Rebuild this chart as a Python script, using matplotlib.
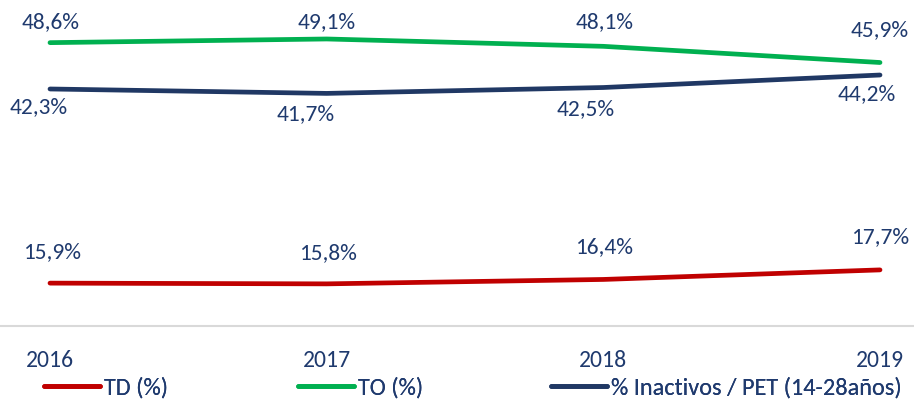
import matplotlib
matplotlib.use("Agg")
import matplotlib.pyplot as plt
import matplotlib.transforms as mtransforms
from matplotlib.lines import Line2D

years = ["2016", "2017", "2018", "2019"]
td = [15.9, 15.8, 16.4, 17.7]
to = [48.6, 49.1, 48.1, 45.9]
inact = [42.3, 41.7, 42.5, 44.2]
series_names = ["TD (%)", "TO (%)", "% Inactivos / PET (14-28años)"]

# label offsets in pixels (style only)
td_off = [(2, 31), (1, 31), (1, 32), (0, 32.5)]
to_off = [(1, 20.5), (0, 17), (1, 24), (0, 32)]
in_off = [(-11, -18.5), (-21, -21), (-18, -22), (-13, -19.5)]

RED = "#C00000"
GREEN = "#00B050"
NAVY = "#203864"
TXT = "#1F3A6E"
FONT = ["Carlito", "DejaVu Sans"]

fig = plt.figure(figsize=(9.14, 4.0), dpi=100)
ax = fig.add_axes([0, 74/400, 1, 326/400])

x = list(range(len(years)))
LW = 3.4
ax.plot(x, td, color=RED, lw=LW, solid_capstyle="round")
ax.plot(x, to, color=GREEN, lw=LW, solid_capstyle="round")
ax.plot(x, inact, color=NAVY, lw=LW, solid_capstyle="round")

def fmt(v):
    return f"{v:.1f}%".replace(".", ",")

for vals, offs in ((td, td_off), (to, to_off), (inact, in_off)):
    for i, v in enumerate(vals):
        ax.annotate(fmt(v), (i, v), xytext=offs[i], textcoords="offset pixels",
                    ha="center", va="center", color=TXT, fontsize=16.8, family=FONT)

ax.set_xlim(-50/276.7, 3 + 34/276.7)
ax.set_ylim(10.07, 54.4)
ax.set_xticks(x)
ax.set_xticklabels(years, family=FONT, fontsize=17, color=TXT)
shift = mtransforms.ScaledTranslation(3/100, 0, fig.dpi_scale_trans)
for lbl in ax.get_xticklabels():
    lbl.set_transform(lbl.get_transform() + shift)
ax.tick_params(axis="x", length=0, pad=17)
ax.set_yticks([])
for s in ["top", "left", "right"]:
    ax.spines[s].set_visible(False)
ax.spines["bottom"].set_color("#D9D9D9")
ax.spines["bottom"].set_linewidth(1.5)

colors = [RED, GREEN, NAVY]
starts = [44, 298, 551]
EM = 17.5 * 100 / 72
for name, c, sx in zip(series_names, colors, starts):
    h = Line2D([], [], color=c, lw=LW, solid_capstyle="round")
    leg = fig.legend([h], [name], loc="center left",
                     bbox_to_anchor=(sx / 914, 12 / 400),
                     frameon=False, handlelength=56 / EM, handletextpad=4 / EM,
                     borderaxespad=0, borderpad=0,
                     prop={"family": FONT, "size": 17.5})
    for t in leg.get_texts():
        t.set_color(TXT)
    fig.add_artist(leg)

fig.savefig("out.png", dpi=100)
